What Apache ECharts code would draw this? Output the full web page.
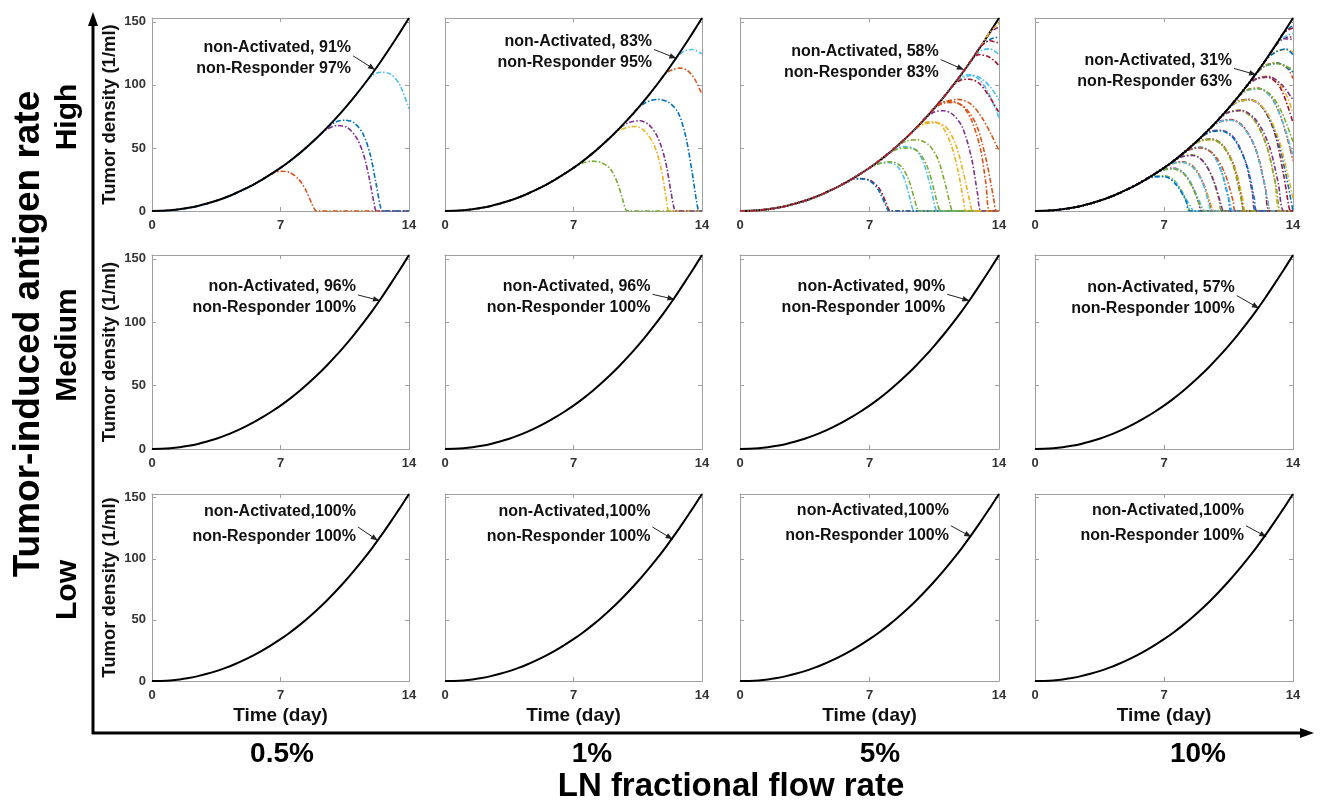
<!DOCTYPE html>
<html>
<head>
<meta charset="utf-8">
<title>Tumor density vs time</title>
<script src="https://cdn.jsdelivr.net/npm/echarts@6/dist/echarts.min.js"></script>
<style>
  html, body { margin: 0; padding: 0; background: #fff; }
  #chart { width: 1320px; height: 801px; }
</style>
</head>
<body>
<div id="chart"></div>
<script>
// Untreated tumour growth, sampled every half day
const days = [0, 0.5, 1, 1.5, 2, 2.5, 3, 3.5, 4, 4.5, 5, 5.5, 6, 6.5, 7, 7.5, 8, 8.5, 9, 9.5, 10, 10.5, 11, 11.5, 12, 12.5, 13, 13.5, 14];
const tumorDensity = [0, 0.1, 0.5, 1.3, 2.5, 4.0, 5.9, 8.1, 10.7, 13.7, 17.1, 20.8, 24.9, 29.4, 34.2, 39.5, 45.3, 51.6, 58.3, 65.5, 73.2, 81.4, 90.1, 99.3, 109.0, 119.3, 130.2, 141.4, 153.0];

const timeTicks = [0, 7, 14];
const densityTicks = [0, 50, 100, 150];
const flowRates = ['0.5%', '1%', '5%', '10%'];
const antigenRates = ['High', 'Medium', 'Low'];
const nonActivated = [[91, 83, 58, 31], [96, 96, 90, 57], [100, 100, 100, 100]];
const nonResponder = [[97, 95, 83, 63], [100, 100, 100, 100], [100, 100, 100, 100]];
const lineColors = ['#0072BD', '#D95319', '#EDB120', '#7E2F8E', '#77AC30', '#4DBEEE', '#A2142F'];

// Responding runs at high antigen rate:
// [colour index, day index where the run leaves the untreated curve, then (day, density) pairs]
const highRuns05 = [
  [1, 13, 7.0, 31.5, 7.5, 30.5, 8.0, 25, 8.4, 16, 8.7, 6, 8.9, 0.5, 9.05, 0, 14, 0],
  [3, 18, 9.5, 64.5, 10.1, 67.8, 10.6, 66.5, 11.1, 59, 11.5, 46, 11.85, 25, 12.1, 6, 12.25, 0, 14, 0],
  [0, 19, 10.0, 70.5, 10.5, 72, 11.0, 70, 11.5, 61, 11.9, 44, 12.2, 22, 12.45, 3, 12.55, 0, 14, 0],
  [5, 23, 12.0, 107.5, 12.5, 110, 13.0, 108.5, 13.5, 100, 14, 81]
];
const highRuns1 = [
  [4, 14, 7.5, 38, 8.0, 39.5, 8.5, 38.5, 9.0, 33.5, 9.4, 22, 9.7, 8, 9.85, 1, 10.0, 0, 14, 0],
  [2, 18, 9.5, 64, 10.0, 66.5, 10.4, 67, 10.9, 63, 11.4, 52, 11.8, 32, 12.05, 10, 12.25, 0, 14, 0],
  [3, 19, 10.0, 70, 10.6, 71.5, 11.1, 68.5, 11.6, 58, 12.0, 40, 12.3, 16, 12.5, 1, 12.6, 0, 14, 0],
  [0, 21, 11.0, 86.5, 11.6, 88.5, 12.2, 86, 12.7, 78, 13.1, 60, 13.45, 32, 13.7, 8, 13.85, 0, 14, 0],
  [1, 24, 12.4, 112, 12.8, 113.3, 13.2, 111.5, 13.6, 104.5, 14, 92.5],
  [5, 25, 13.0, 126.5, 13.5, 128, 14, 124.5]
];
const highRuns5 = [
  [6, 12, 6.5, 25.8, 7.0, 24.5, 7.5, 18.5, 7.85, 8, 8.05, 1, 8.2, 0, 14, 0],
  [0, 12, 6.5, 25.5, 7.0, 24, 7.45, 17.5, 7.8, 7, 8.0, 0.5, 8.1, 0, 14, 0],
  [5, 14, 7.5, 37.5, 8.0, 38.5, 8.5, 35.5, 8.9, 25, 9.2, 9, 9.35, 1, 9.45, 0, 14, 0],
  [4, 14, 7.6, 37.8, 8.2, 39, 8.7, 35.5, 9.1, 25.5, 9.4, 11, 9.6, 1, 9.7, 0, 14, 0],
  [5, 16, 8.5, 50, 9.0, 51, 9.5, 48.5, 9.9, 39, 10.3, 19, 10.55, 3, 10.65, 0, 14, 0],
  [4, 16, 8.5, 49, 9.1, 50, 9.6, 47.5, 10.1, 36, 10.5, 16, 10.75, 2, 10.9, 0, 14, 0],
  [4, 17, 9.0, 55.5, 9.6, 56.5, 10.2, 52.5, 10.7, 41, 11.1, 21, 11.4, 3, 11.5, 0, 14, 0],
  [2, 19, 10.0, 70, 10.4, 71, 10.9, 67.5, 11.4, 53, 11.8, 31, 12.1, 7, 12.25, 0, 14, 0],
  [2, 19, 10.0, 69, 10.6, 70, 11.2, 65.5, 11.7, 51, 12.1, 29, 12.45, 6, 12.6, 0, 14, 0],
  [3, 20, 10.5, 78.5, 11.0, 79.5, 11.5, 76.5, 12.0, 67, 12.5, 43, 12.85, 13, 13.05, 0, 14, 0],
  [1, 21, 11.0, 86.5, 11.4, 87, 12.0, 83.5, 12.5, 72.5, 13.0, 49, 13.3, 21, 13.5, 0, 14, 0],
  [1, 21, 11.0, 85.5, 11.6, 86, 12.2, 81.5, 12.8, 67.5, 13.3, 41, 13.7, 11, 13.85, 0, 14, 0],
  [1, 21, 11.1, 86.5, 11.8, 88.5, 12.5, 84.5, 13.1, 73.5, 13.6, 60, 14, 48],
  [5, 23, 12.0, 106.5, 12.4, 108, 12.9, 104.5, 13.4, 94.5, 14, 74],
  [5, 23, 12.1, 106, 12.6, 107.5, 13.1, 104.5, 13.6, 97, 14, 88],
  [6, 23, 11.9, 103.5, 12.4, 104.5, 12.9, 101.5, 13.4, 92.5, 14, 78],
  [5, 25, 13.0, 127, 13.5, 128.5, 14, 124],
  [6, 25, 12.9, 124, 13.4, 122.5, 13.8, 118.5, 14, 115],
  [0, 26, 13.5, 136, 14, 138],
  [3, 27, 14, 146],
  [2, 27, 14, 149],
  [6, 26, 13.5, 135, 14, 133]
];
const highRuns10 = [
  [4, 12, 6.5, 27.5, 7.0, 28, 7.5, 25, 8.0, 15, 8.3, 4, 8.45, 0, 14, 0],
  [5, 12, 6.5, 27, 7.0, 27.5, 7.6, 23, 8.1, 12, 8.5, 2, 8.6, 0, 14, 0],
  [0, 12, 6.5, 27.2, 7.1, 27, 7.7, 20, 8.2, 8, 8.4, 0, 14, 0],
  [3, 13, 7.0, 33, 7.5, 34, 8.0, 31, 8.5, 21, 8.9, 6, 9.05, 0, 14, 0],
  [5, 13, 7.0, 32.5, 7.6, 33.5, 8.2, 28, 8.7, 15, 9.1, 2, 9.2, 0, 14, 0],
  [4, 13, 7.0, 32.8, 7.5, 33.5, 8.1, 29, 8.6, 17, 9.0, 3, 9.15, 0, 14, 0],
  [6, 14, 7.5, 38, 8.0, 39, 8.6, 35, 9.1, 23, 9.5, 6, 9.65, 0, 14, 0],
  [2, 14, 7.5, 37.5, 8.1, 38.5, 8.7, 33, 9.2, 19, 9.6, 3, 9.75, 0, 14, 0],
  [5, 14, 7.5, 37.8, 8.0, 38.5, 8.6, 34, 9.1, 22, 9.45, 5, 9.6, 0, 14, 0],
  [4, 15, 8.0, 43.5, 8.5, 44.5, 9.1, 40, 9.6, 27, 10.0, 8, 10.15, 0, 14, 0],
  [3, 15, 8.0, 43, 8.6, 44, 9.2, 38, 9.7, 24, 10.1, 5, 10.25, 0, 14, 0],
  [0, 16, 8.5, 49.5, 9.0, 50.5, 9.6, 46, 10.1, 32, 10.5, 10, 10.7, 0, 14, 0],
  [5, 16, 8.5, 49, 9.1, 50, 9.7, 44, 10.2, 28, 10.6, 6, 10.75, 0, 14, 0],
  [1, 16, 8.5, 49.2, 9.0, 50, 9.7, 45, 10.3, 30, 10.75, 8, 10.9, 0, 14, 0],
  [6, 17, 9.0, 56, 9.6, 57, 10.2, 52, 10.8, 36, 11.2, 12, 11.4, 0, 14, 0],
  [2, 17, 9.0, 55.5, 9.6, 56.5, 10.3, 50, 10.9, 32, 11.3, 8, 11.45, 0, 14, 0],
  [4, 17, 9.0, 55.8, 9.5, 56.8, 10.1, 53, 10.7, 38, 11.1, 15, 11.3, 1, 11.35, 0, 14, 0],
  [3, 18, 9.5, 63, 10.1, 64, 10.8, 58, 11.4, 40, 11.8, 14, 12.0, 0, 14, 0],
  [0, 18, 9.5, 62.5, 10.1, 63.5, 10.8, 57, 11.5, 36, 11.9, 10, 12.05, 0, 14, 0],
  [6, 19, 10.0, 71, 10.6, 72.5, 11.3, 67, 12.0, 48, 12.5, 18, 12.75, 0, 14, 0],
  [1, 19, 10.0, 70.5, 10.7, 72, 11.4, 65, 12.0, 48, 12.45, 22, 12.7, 2, 12.8, 0, 14, 0],
  [5, 19, 10.0, 70.8, 10.6, 72, 11.2, 68, 11.9, 52, 12.4, 25, 12.7, 3, 12.8, 0, 14, 0],
  [2, 20, 10.5, 78.5, 11.1, 80, 11.8, 74, 12.5, 55, 13.0, 25, 13.3, 0, 14, 0],
  [4, 20, 10.5, 78, 11.1, 79.5, 11.9, 72, 12.6, 50, 13.1, 18, 13.35, 0, 14, 0],
  [3, 20, 10.5, 78.2, 11.2, 79.8, 12.0, 72, 12.7, 52, 13.2, 22, 13.5, 0, 14, 0],
  [6, 21, 11.0, 87, 11.6, 88.5, 12.3, 83, 13.0, 62, 13.5, 28, 13.8, 2, 13.9, 0, 14, 0],
  [0, 21, 11.0, 86.5, 11.7, 88, 12.4, 81, 13.1, 60, 13.6, 30, 14, 0],
  [2, 21, 11.0, 86.8, 11.7, 88, 12.5, 80, 13.2, 58, 13.7, 30, 14, 10],
  [1, 22, 11.5, 96, 12.1, 97.5, 12.8, 91, 13.4, 72, 14, 40],
  [5, 22, 11.5, 95.5, 12.2, 97, 12.9, 88, 13.5, 68, 14, 44],
  [4, 22, 11.5, 95.8, 12.1, 97, 12.8, 92, 13.4, 78, 14, 55],
  [2, 23, 12.0, 105, 12.6, 107, 13.2, 102, 13.7, 90, 14, 78],
  [6, 23, 12.0, 104.5, 12.6, 106, 13.3, 98, 14, 70],
  [3, 23, 12.0, 104.8, 12.7, 106.5, 13.4, 100, 14, 88],
  [1, 24, 12.5, 115.5, 13.1, 117.5, 13.7, 113, 14, 105],
  [0, 24, 12.5, 115, 13.2, 117, 14, 110],
  [4, 24, 12.5, 115.2, 13.0, 117, 13.6, 115, 14, 112],
  [2, 25, 13.0, 126, 13.6, 128, 14, 126],
  [0, 25, 13.0, 125.5, 13.6, 128.5, 14, 124],
  [6, 26, 13.5, 137, 14, 138],
  [3, 26, 13.5, 136.5, 14, 136],
  [5, 26, 13.5, 137.5, 14, 141],
  [0, 27, 14, 147],
  [6, 27, 14, 145]
];
const highRuns = [highRuns05, highRuns1, highRuns5, highRuns10];

// ---- layout of the 3 x 4 panel grid (pixels) ----
const FONT = '"Liberation Sans", Arial, Helvetica, sans-serif';
const colLeft = [152, 445, 740, 1035];
const colRight = [409, 702, 999, 1293];
const rowTop = [18, 255, 494];
const rowBottom = [211, 449, 681];

// annotation arrows in data coordinates: tail (near the text) and tip (on the curve)
const arrowTail = [
  [[10.95, 123], [11.39, 128], [10.85, 120], [10.8, 113]],
  [[11.22, 121.5], [11.3, 122], [11.2, 122], [10.95, 121]],
  [[11.22, 126], [11.3, 126], [11.4, 127], [11.45, 127]]
];
const arrowTip = [
  [[12.15, 112], [12.6, 121], [12.1, 112], [12.0, 108]],
  [[12.42, 117], [12.5, 118], [12.4, 117], [12.15, 111]],
  [[12.3, 115], [12.4, 116], [12.5, 118], [12.55, 118]]
];

function pct(v) { return (v < 100 ? ' ' : '') + v + '%'; }

const GRAY = '#a0a0a0';
const grids = [], xAxes = [], yAxes = [], series = [];

for (let r = 0; r < 3; r++) {
  for (let c = 0; c < 4; c++) {
    const g = r * 4 + c;
    grids.push({
      left: colLeft[c], top: rowTop[r],
      width: colRight[c] - colLeft[c], height: rowBottom[r] - rowTop[r]
    });
    const baseX = {
      gridIndex: g, type: 'value', min: 0, max: 14,
      splitLine: { show: false },
      axisLine: { show: true, onZero: false, lineStyle: { color: GRAY, width: 1 } },
      axisTick: { show: true, inside: true, length: 4, customValues: timeTicks, lineStyle: { color: GRAY } }
    };
    xAxes.push(Object.assign({}, baseX, {
      position: 'bottom',
      axisLabel: { show: true, customValues: timeTicks, margin: 8, color: '#333', fontWeight: 'bold', fontSize: 13, fontFamily: FONT },
      name: r === 2 ? 'Time (day)' : '',
      nameLocation: 'middle', nameGap: 25,
      nameTextStyle: { color: '#111', fontWeight: 'bold', fontSize: 19, fontFamily: FONT }
    }));
    xAxes.push(Object.assign({}, baseX, { position: 'top', axisLabel: { show: false } }));
    const baseY = {
      gridIndex: g, type: 'value', min: 0, max: 153,
      splitLine: { show: false },
      axisLine: { show: true, onZero: false, lineStyle: { color: GRAY, width: 1 } },
      axisTick: { show: true, inside: true, length: 4, customValues: densityTicks, lineStyle: { color: GRAY } }
    };
    yAxes.push(Object.assign({}, baseY, {
      position: 'left',
      axisLabel: { show: c === 0, customValues: densityTicks, margin: 6, color: '#333', fontWeight: 'bold', fontSize: 13, fontFamily: FONT },
      name: c === 0 ? 'Tumor density (1/ml)' : '',
      nameLocation: 'middle', nameGap: 33,
      nameTextStyle: { color: '#111', fontWeight: 'bold', fontSize: 18.5, fontFamily: FONT }
    }));
    yAxes.push(Object.assign({}, baseY, { position: 'right', axisLabel: { show: false } }));

    const xi = 2 * g, yi = 2 * g;
    // runs drawn on top of the untreated curve only in the 5% panel
    const blackOnTop = !(r === 0 && c === 2);
    const growthData = days.map((d, i) => [d, tumorDensity[i]]);
    series.push({
      type: 'line', xAxisIndex: xi, yAxisIndex: yi, data: growthData,
      showSymbol: false, symbol: 'none', smooth: 0.3, silent: true,
      lineStyle: { color: '#000', width: 2 }, z: blackOnTop ? 5 : 2
    });
    if (r === 0) {
      highRuns[c].forEach(run => {
        const k = run[1];
        const data = growthData.slice(0, k + 1);
        for (let j = 2; j < run.length; j += 2) data.push([run[j], run[j + 1]]);
        series.push({
          type: 'line', xAxisIndex: xi, yAxisIndex: yi, data,
          showSymbol: false, symbol: 'none', smooth: 0.3, silent: true,
          lineStyle: { color: lineColors[run[0]], width: 1.6, type: [5, 2, 1.5, 2] },
          z: 3
        });
      });
    }
  }
}

const chart = echarts.init(document.getElementById('chart'));
chart.setOption({
  animation: false,
  backgroundColor: '#fff',
  grid: grids, xAxis: xAxes, yAxis: yAxes, series
});

// ---- annotations, arrows and outer labels ----
const gfx = [];
function arrowHead(x1, y1, x2, y2, len, half, fill) {
  const a = Math.atan2(y2 - y1, x2 - x1);
  const bx = x2 - len * Math.cos(a), by = y2 - len * Math.sin(a);
  return {
    type: 'polygon', silent: true,
    shape: { points: [[x2, y2], [bx - half * Math.sin(a), by + half * Math.cos(a)], [bx + half * Math.sin(a), by - half * Math.cos(a)]] },
    style: { fill }
  };
}
for (let r = 0; r < 3; r++) {
  for (let c = 0; c < 4; c++) {
    const g = r * 4 + c;
    const p0 = chart.convertToPixel({ gridIndex: g }, arrowTail[r][c]);
    const p1 = chart.convertToPixel({ gridIndex: g }, arrowTip[r][c]);
    gfx.push({ type: 'line', silent: true, shape: { x1: p0[0], y1: p0[1], x2: p1[0], y2: p1[1] }, style: { stroke: '#222', lineWidth: 1 } });
    gfx.push(arrowHead(p0[0], p0[1], p1[0], p1[1], 7, 2.8, '#222'));
    const up = r === 2 ? -15 : -8, down = r === 2 ? 10 : 13;
    gfx.push({ type: 'text', silent: true, x: p0[0] - 2, y: p0[1] + up,
      style: { text: 'non-Activated,' + pct(nonActivated[r][c]), font: 'bold 16px ' + FONT, fill: '#111', align: 'right', verticalAlign: 'middle' } });
    gfx.push({ type: 'text', silent: true, x: p0[0] - 2, y: p0[1] + down,
      style: { text: 'non-Responder ' + nonResponder[r][c] + '%', font: 'bold 16px ' + FONT, fill: '#111', align: 'right', verticalAlign: 'middle' } });
  }
}
// outer axes with arrows
gfx.push({ type: 'line', silent: true, shape: { x1: 93, y1: 734, x2: 93, y2: 24 }, style: { stroke: '#000', lineWidth: 3 } });
gfx.push(arrowHead(93, 734, 93, 12, 14, 5, '#000'));
gfx.push({ type: 'line', silent: true, shape: { x1: 92, y1: 733, x2: 1302, y2: 733 }, style: { stroke: '#000', lineWidth: 3 } });
gfx.push(arrowHead(92, 733, 1314, 733, 14, 5, '#000'));

gfx.push({ type: 'text', silent: true, x: 29, y: 334, rotation: Math.PI / 2,
  style: { text: 'Tumor-induced antigen rate', font: 'bold 37px ' + FONT, fill: '#000', align: 'center', verticalAlign: 'middle' } });
const rowLabelY = [117, 345, 590];
antigenRates.forEach((t, i) => gfx.push({ type: 'text', silent: true, x: 68, y: rowLabelY[i], rotation: Math.PI / 2,
  style: { text: t, font: 'bold 30px ' + FONT, fill: '#000', align: 'center', verticalAlign: 'middle' } }));
const colLabelX = [282, 592, 880, 1198];
flowRates.forEach((t, i) => gfx.push({ type: 'text', silent: true, x: colLabelX[i], y: 754,
  style: { text: t, font: 'bold 28px ' + FONT, fill: '#000', align: 'center', verticalAlign: 'middle' } }));
gfx.push({ type: 'text', silent: true, x: 731, y: 787,
  style: { text: 'LN fractional flow rate', font: 'bold 33px ' + FONT, fill: '#000', align: 'center', verticalAlign: 'middle' } });

chart.setOption({ graphic: gfx });
</script>
</body>
</html>
